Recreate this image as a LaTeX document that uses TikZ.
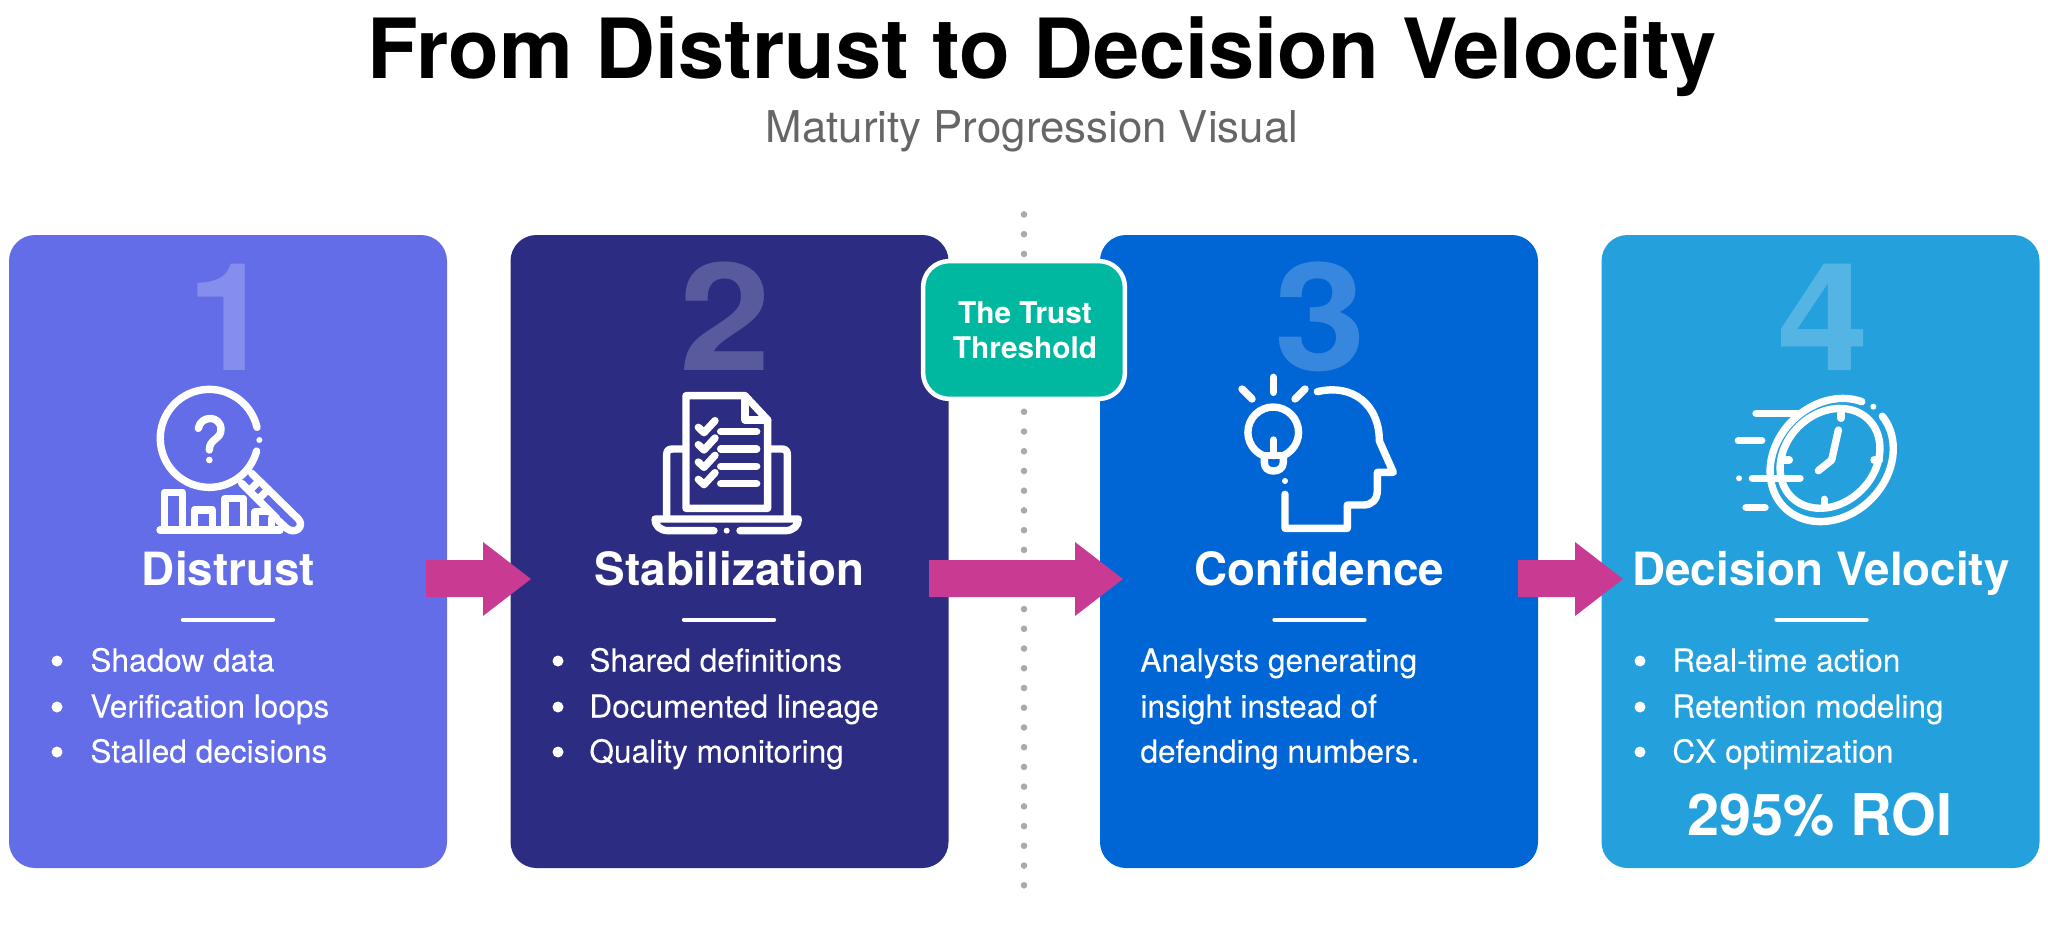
\documentclass[tikz,border=0pt]{standalone}
\usepackage{fontspec}
\setmainfont{TeX Gyre Heros}
\newfontfamily\bodyfont[FakeBold=0.12]{TeX Gyre Heros}
\definecolor{cardA}{RGB}{99,109,232}
\definecolor{cardB}{RGB}{43,44,130}
\definecolor{cardC}{RGB}{0,102,214}
\definecolor{cardD}{RGB}{36,160,221}
\definecolor{arrowcol}{RGB}{201,58,146}
\definecolor{badgecol}{RGB}{0,184,160}
\definecolor{dotcol}{RGB}{170,170,170}
\definecolor{subcol}{RGB}{102,102,102}
\newcommand{\fsz}[1]{\fontsize{#1pt}{#1pt}\selectfont}
\tikzset{
  x=0.5pt, y=-0.5pt,
  card/.style={rectangle, rounded corners=13pt, minimum width=219pt, minimum height=316.5pt, inner sep=0pt, outer sep=0pt},
  bignum/.style={anchor=base, inner sep=0pt, text=white, text opacity=0.22, font=\fsz{75}\bfseries},
  cardhead/.style={anchor=base, inner sep=0pt, text=white, font=\fsz{22.9}\bfseries},
  bodytxt/.style={anchor=base west, inner sep=0pt, text=white, font=\bodyfont\fsz{15.8}},
  sepline/.style={white, line width=2.2pt, line cap=round},
  flow/.style={fill=arrowcol, draw=none},
  icon/.style={white, line width=3.7pt, line cap=round, line join=round},
  unit/.style={x=0.16667pt, y=-0.16667pt}
}
\begin{document}
\begin{tikzpicture}
\useasboundingbox (0,0) rectangle (2048,925);
% title
\node[anchor=base, inner sep=0pt, font=\fsz{41.5}\bfseries] (title) at (1042,79) {From Distrust to Decision Velocity};
\node[anchor=base, inner sep=0pt, text=subcol, font=\fsz{21.9}] (subtitle) at (1032,143) {Maturity Progression Visual};
% threshold dots
\foreach \nn in {0,...,24,32,33,34} \fill[dotcol] (1024,885.3-19.73*\nn) circle[radius=3.3];
% cards
\node[card, fill=cardA] (c1) at (228,551.5) {};
\node[card, fill=cardB] (c2) at (729.5,551.5) {};
\node[card, fill=cardC] (c3) at (1319,551.5) {};
\node[card, fill=cardD] (c4) at (1820.5,551.5) {};
% numbers
\node[bignum] (n1) at (230,370) {\scalebox{1.02}[1]{1}};
\node[bignum] (n2) at (725,370) {\scalebox{1.1}[1]{2}};
\node[bignum] (n3) at (1320.5,370) {\scalebox{1.1}[1]{3}};
\node[bignum] (n4) at (1823.5,370) {\scalebox{1.1}[1]{4}};
% flow arrows
\fill[flow] (426,560) -- (483,560) -- (483,542) -- (531,579) -- (483,616) -- (483,597) -- (426,597) -- cycle;
\fill[flow] (929,560) -- (1075,560) -- (1075,542) -- (1123,579) -- (1075,616) -- (1075,597) -- (929,597) -- cycle;
\fill[flow] (1518,560) -- (1575,560) -- (1575,542) -- (1623,579) -- (1575,616) -- (1575,597) -- (1518,597) -- cycle;
% badge
\node[rectangle, rounded corners=13pt, draw=white, line width=2.25pt, fill=badgecol, minimum width=100.9pt, minimum height=68.9pt, inner sep=0pt, outer sep=0pt] (badge) at (1024,330) {};
\node[anchor=base, inner sep=0pt, text=white, font=\fsz{14.9}\bfseries] (b1) at (1025,323) {The Trust};
\node[anchor=base, inner sep=0pt, text=white, font=\fsz{14.9}\bfseries] (b2) at (1025,358) {Threshold};
% headings
\node[cardhead] (h1) at (228.5,585.3) {Distrust};
\node[cardhead] (h2) at (729.5,585.3) {Stabilization};
\node[cardhead] (h3) at (1319.5,585.3) {Confidence};
\node[cardhead] (h4) at (1821,585.3) {Decision Velocity};
% separators
\draw[sepline] (183,619.7) -- (273,619.7);
\draw[sepline] (684,619.7) -- (774,619.7);
\draw[sepline] (1274.5,619.7) -- (1364.5,619.7);
\draw[sepline] (1776.5,619.7) -- (1866.5,619.7);
% bullet lists
\foreach \bx/\tx/\a/\b/\c in {57/90/Shadow data/Verification loops/Stalled decisions,
  558/589/Shared definitions/Documented lineage/Quality monitoring,
  1640/1672/Real-time action/Retention modeling/CX optimization}{
  \foreach \yy/\ss in {661/\a,707/\b,752/\c}{
    \fill[white] (\bx,\yy) circle[radius=5.5];
    \node[bodytxt] at (\tx,\yy+10.5) {\ss};
  }
}
\node[bodytxt] (t1) at (1140,671.5) {Analysts generating};
\node[bodytxt] (t2) at (1140,717.5) {insight instead of};
\node[bodytxt] (t3) at (1140,762.5) {defending numbers.};
\node[anchor=base, inner sep=0pt, text=white, font=\fsz{28.8}\bfseries] (roi) at (1820,835) {295\% ROI};
% icon 1
\begin{scope}[shift={(130,370)}, unit, icon]
\draw (381,172) arc[start angle=-13, end angle=-345, radius=147];
\fill (388,210) circle[radius=9];
\draw (205,175) .. controls (212,135) and (272,135) .. (273,178) .. controls (273,210) and (238,205) .. (238,240);
\fill (238,270) circle[radius=10];
\draw (365,310) -- (505,447) .. controls (525,470) and (495,495) .. (470,475) -- (445,452);
\draw (335,340) -- (440,445);
\draw (358,362) -- (388,332);
\draw (385,388) -- (415,358);
\draw (90,480) -- (450,480);
\draw (103,475) -- (103,367) -- (157,367) -- (157,475);
\draw (193,475) -- (193,420) -- (248,420) -- (248,475);
\draw (285,475) -- (285,385) -- (340,385) -- (340,475);
\draw (375,475) -- (375,425) -- (418,425);
\draw (425,445) -- (425,475);
\end{scope}
% icon 2
\begin{scope}[shift={(630,380)}, unit, icon]
\draw (168,47) -- (345,47) -- (413,120) -- (413,385) -- (168,385) -- cycle;
\draw (345,47) -- (345,120) -- (413,120);
\foreach \dy in {0,52,104,156}{
  \draw (205,142+\dy) -- (222,158+\dy) -- (255,122+\dy);
  \draw (272,155+\dy) -- (380,155+\dy);
}
\draw (110,410) -- (110,225) .. controls (110,212) and (115,207) .. (128,207) -- (160,207);
\draw (420,207) -- (455,207) .. controls (467,207) and (472,212) .. (472,225) -- (472,410);
\draw (252,452) -- (115,452) .. controls (90,452) and (75,437) .. (75,417) -- (505,417) .. controls (505,437) and (490,452) .. (465,452) -- (330,452);
\fill (290,452) circle[radius=9];
\end{scope}
% icon 3
\begin{scope}[shift={(1220,365)}, unit, icon]
\draw (130,272) arc[start angle=-247, end angle=67, radius=76] ;
\draw (160,225) -- (160,272);
\draw (133,272) -- (133,292) .. controls (133,310) and (145,318) .. (160,318) .. controls (175,318) and (190,310) .. (190,292) -- (190,272);
\draw (133,272) -- (190,272);
\draw (160,37) -- (160,82);
\draw (66,72) -- (96,102);
\draw (255,72) -- (225,102);
\draw (292,80) .. controls (400,55) and (478,120) .. (478,228) -- (520,322) -- (472,322) -- (472,375) .. controls (472,405) and (455,420) .. (430,420) -- (382,420) -- (382,490) -- (195,490) -- (195,388);
\fill (195,348) circle[radius=9];
\end{scope}
% icon 4
\begin{scope}[shift={(1720,380)}, unit, icon]
\draw plot[domain=0:360, samples=90, smooth] ({330+164*cos(\x)*0.7071-134*sin(\x)*0.7071},{235-164*cos(\x)*0.7071-134*sin(\x)*0.7071}) -- cycle;
\draw plot[domain=21:355, samples=90, smooth] ({335+201*cos(\x)*0.7071-167*sin(\x)*0.7071},{240-201*cos(\x)*0.7071-167*sin(\x)*0.7071});
\fill (460,80) circle[radius=9];
\draw (363,100) -- (363,115);
\draw (313,372) -- (313,358);
\draw (190,240) -- (208,240);
\draw (462,240) -- (478,240);
\draw (355,150) -- (335,240) -- (295,272);
\draw (108,100) -- (232,100);
\draw (55,182) -- (125,182);
\draw (97,295) -- (240,295);
\fill (57,295) circle[radius=9];
\draw (78,382) -- (135,382);
\end{scope}
\end{tikzpicture}
\end{document}
